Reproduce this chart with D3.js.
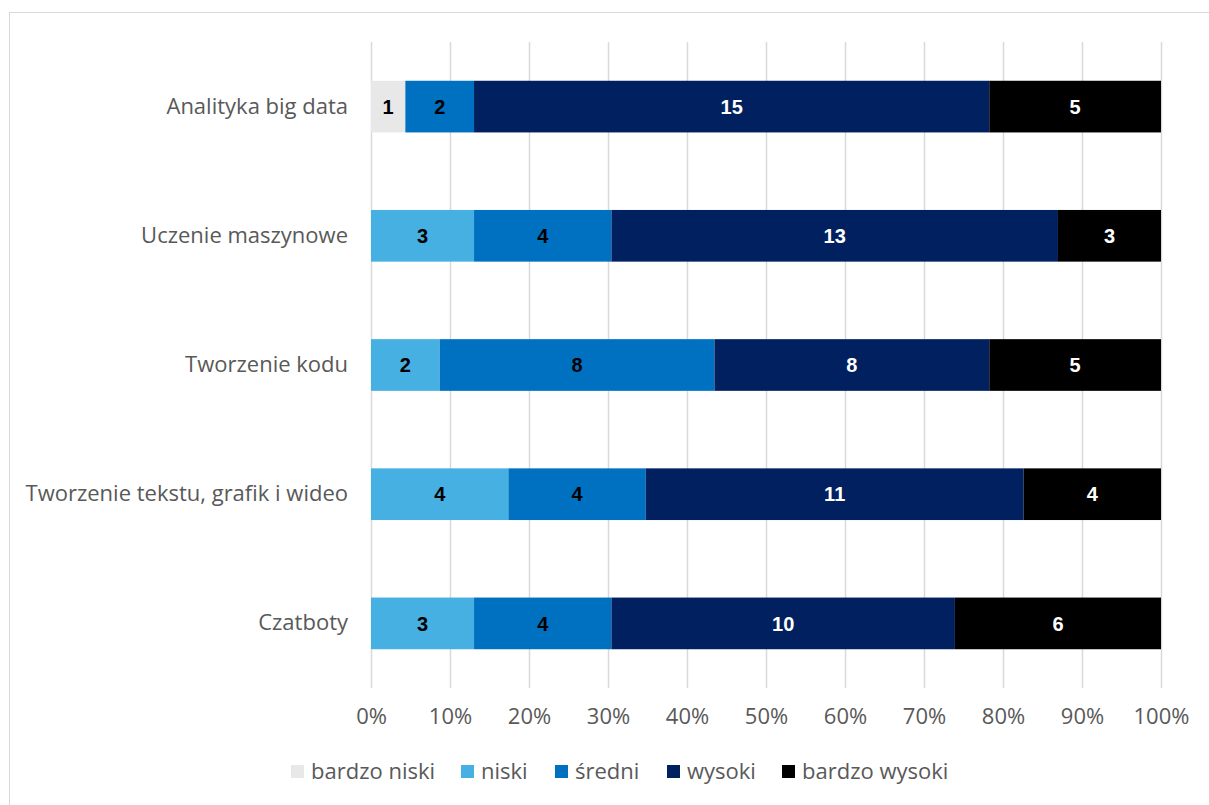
<!DOCTYPE html>
<html><head><meta charset="utf-8">
<script src="https://cdn.jsdelivr.net/npm/d3@7"></script>
<style>
body{margin:0;background:#fff;}
svg{display:block;font-family:"Open Sans",sans-serif;}
</style></head>
<body><svg id="c" width="1209" height="805"></svg>
<script>
const categories = ["Analityka big data","Uczenie maszynowe","Tworzenie kodu","Tworzenie tekstu, grafik i wideo","Czatboty"];
const seriesNames = ["bardzo niski","niski","średni","wysoki","bardzo wysoki"];
const bardzoNiski = [1,0,0,0,0];
const niski = [0,3,2,4,3];
const sredni = [2,4,8,4,4];
const wysoki = [15,13,8,11,10];
const bardzoWysoki = [5,3,5,4,6];
const tickLabels = ["0%","10%","20%","30%","40%","50%","60%","70%","80%","90%","100%"];
const colors = ["#e8e8e8","#45b0e1","#0070c0","#002060","#000000"];
const labelColors = ["#000","#000","#000","#fff","#fff"];

const svg = d3.select("#c");
// chart border
svg.append("rect").attr("x",9.5).attr("y",12.5).attr("width",1210).attr("height",820)
  .attr("fill","none").attr("stroke","#d9d9d9").attr("stroke-width",1);

const x0=371, x1=1161, y0=42, y1=688;
const x = d3.scaleLinear().domain([0,1]).range([x0,x1]);
const y = d3.scaleBand().domain(categories).range([y0,y1]).paddingInner(0.6).paddingOuter(0.3);

const rows = categories.map((c,i)=>{
  const vals=[bardzoNiski[i],niski[i],sredni[i],wysoki[i],bardzoWysoki[i]];
  const o={cat:c}; seriesNames.forEach((s,j)=>o[s]=vals[j]); return o;
});
const stack = d3.stack().keys(seriesNames).offset(d3.stackOffsetExpand);
const layers = stack(rows);

// grid
const gx = svg.append("g").attr("transform",`translate(0,${y1})`)
  .call(d3.axisBottom(x).tickValues(d3.range(0,1.0001,0.1)).tickSize(-(y1-y0)).tickFormat((d,i)=>tickLabels[i]).tickPadding(20));
gx.select(".domain").remove();
gx.selectAll(".tick line").attr("stroke","#d9d9d9").attr("stroke-width",1.5);
gx.selectAll(".tick text").attr("fill","#595959").style("font-size","22px").style("font-family","Open Sans, sans-serif");

// bars
layers.forEach((layer,j)=>{
  const g = svg.append("g");
  layer.forEach((d,i)=>{
    const v = d.data[seriesNames[j]];
    if(!v) return;
    const xa=x(d[0]), xb=x(d[1]), yy=y(d.data.cat);
    g.append("rect").attr("x",xa).attr("y",yy).attr("width",xb-xa).attr("height",y.bandwidth()).attr("fill",colors[j]);
    g.append("text").attr("x",(xa+xb)/2).attr("y",yy+y.bandwidth()/2).attr("dy","0.36em")
      .attr("text-anchor","middle").attr("fill",labelColors[j])
      .style("font-family","Liberation Sans, Arial, sans-serif").style("font-weight","bold").style("font-size","20px")
      .text(v);
  });
});

// category labels
const gy = svg.append("g").attr("transform",`translate(${x0},0)`).call(d3.axisLeft(y).tickSize(0).tickPadding(23));
gy.select(".domain").remove();
gy.selectAll(".tick text").attr("fill","#595959").style("font-size","22px").style("font-family","Open Sans, sans-serif");

// legend
const legendX=[291,461,555,667,782];
const lg = svg.append("g");
seriesNames.forEach((s,j)=>{
  lg.append("rect").attr("x",legendX[j]).attr("y",765).attr("width",13).attr("height",13).attr("fill",colors[j]);
  lg.append("text").attr("x",legendX[j]+20).attr("y",771.5).attr("dy","0.36em").attr("fill","#595959")
    .style("font-size","22px").text(s);
});
</script></body></html>
